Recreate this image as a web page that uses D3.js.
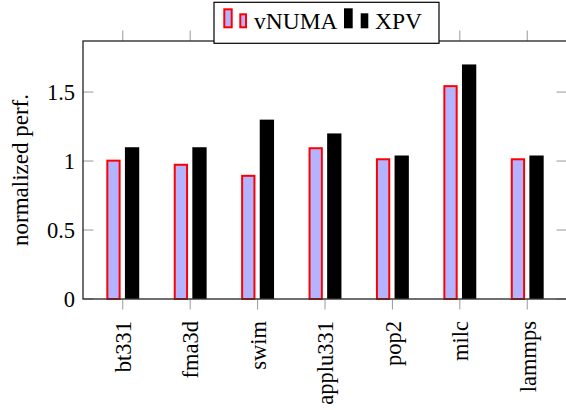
<!DOCTYPE html>
<html><head><meta charset="utf-8">
<script src="https://cdn.jsdelivr.net/npm/d3@7"></script>
<style>body{margin:0;background:#fff;} svg text{font-family:'Liberation Serif', serif;}</style>
</head><body>
<svg id="c" width="566" height="410" font-family="Liberation Serif"></svg>
<script>
const categories = ["bt331","fma3d","swim","applu331","pop2","milc","lammps"];
const vNUMA = [1.01, 0.98, 0.90, 1.10, 1.02, 1.55, 1.02];
const XPV   = [1.10, 1.10, 1.30, 1.20, 1.04, 1.70, 1.04];
const yTicks = [0, 0.5, 1, 1.5];
const yTickLabels = ["0","0.5","1","1.5"];
const seriesNames = ["vNUMA","XPV"];

const FF = "Liberation Serif";
const svg = d3.select("#c");
const L = 83, R = 567, T = 41, B = 299;
const x = d3.scalePoint().domain(categories).range([L, R]).padding(0.59);
const y = d3.scaleLinear().domain([0, 1.87]).range([B, T]);
const tickCol = "#999";
const barW = 14.3, off = 9.3;

yTicks.forEach((t,i) => {
  svg.append("line").attr("x1", L).attr("x2", L+10.5).attr("y1", y(t)).attr("y2", y(t)).attr("stroke", tickCol).attr("stroke-width", 1);
  svg.append("line").attr("x1", R-10.5).attr("x2", R).attr("y1", y(t)).attr("y2", y(t)).attr("stroke", tickCol).attr("stroke-width", 1);
  svg.append("text").attr("x", 75).attr("y", y(t)).attr("dy", "0.34em").attr("text-anchor", "end")
    .attr("font-family", FF).attr("font-size", 22.5).text(yTickLabels[i]);
});
categories.forEach(c => {
  svg.append("line").attr("x1", x(c)).attr("x2", x(c)).attr("y1", B).attr("y2", B+10.5).attr("stroke", tickCol).attr("stroke-width", 1);
  svg.append("line").attr("x1", x(c)).attr("x2", x(c)).attr("y1", T).attr("y2", T-10.5).attr("stroke", tickCol).attr("stroke-width", 1);
  svg.append("text").attr("transform", `translate(${x(c)+8.3},${321})rotate(-90)`)
    .attr("text-anchor", "end").attr("font-family", FF).attr("font-size", 22.5).text(c);
});

svg.selectAll(".vb").data(categories).enter().append("rect")
  .attr("x", (c) => x(c) - off - barW/2 + 1).attr("width", barW - 2)
  .attr("y", (c,i) => y(vNUMA[i]) + 1).attr("height", (c,i) => y(0) - y(vNUMA[i]) - 1)
  .attr("fill", "#b3b3ff").attr("stroke", "#ff0000").attr("stroke-width", 2);
svg.selectAll(".xb").data(categories).enter().append("rect")
  .attr("x", (c) => x(c) + off - barW/2).attr("width", barW)
  .attr("y", (c,i) => y(XPV[i])).attr("height", (c,i) => y(0) - y(XPV[i]))
  .attr("fill", "#000");

svg.append("rect").attr("x", L).attr("y", T).attr("width", R-L).attr("height", B-T)
  .attr("fill", "none").attr("stroke", "#333").attr("stroke-width", 1.4);

svg.append("text").attr("transform", `translate(28,${(T+B)/2})rotate(-90)`)
  .attr("text-anchor", "middle").attr("font-family", FF).attr("font-size", 23).text("normalized perf.");

const lg = svg.append("g");
lg.append("rect").attr("x", 214).attr("y", 2.3).attr("width", 225).attr("height", 41)
  .attr("fill", "#fff").attr("stroke", "#000").attr("stroke-width", 1.2);
lg.append("rect").attr("x", 224.3).attr("y", 9.3).attr("width", 7.4).attr("height", 18)
  .attr("fill", "#b3b3ff").attr("stroke", "#ff0000").attr("stroke-width", 2);
lg.append("rect").attr("x", 240.3).attr("y", 14.3).attr("width", 5.7).attr("height", 13)
  .attr("fill", "#b3b3ff").attr("stroke", "#ff0000").attr("stroke-width", 2);
lg.append("text").attr("x", 254).attr("y", 29.3).attr("font-family", FF).attr("font-size", 23.5).text(seriesNames[0]);
lg.append("rect").attr("x", 344).attr("y", 8.3).attr("width", 8.7).attr("height", 20).attr("fill", "#000");
lg.append("rect").attr("x", 360.7).attr("y", 13.3).attr("width", 7.6).attr("height", 15).attr("fill", "#000");
lg.append("text").attr("x", 375).attr("y", 29.3).attr("font-family", FF).attr("font-size", 23.5).text(seriesNames[1]);
</script>
</body></html>
